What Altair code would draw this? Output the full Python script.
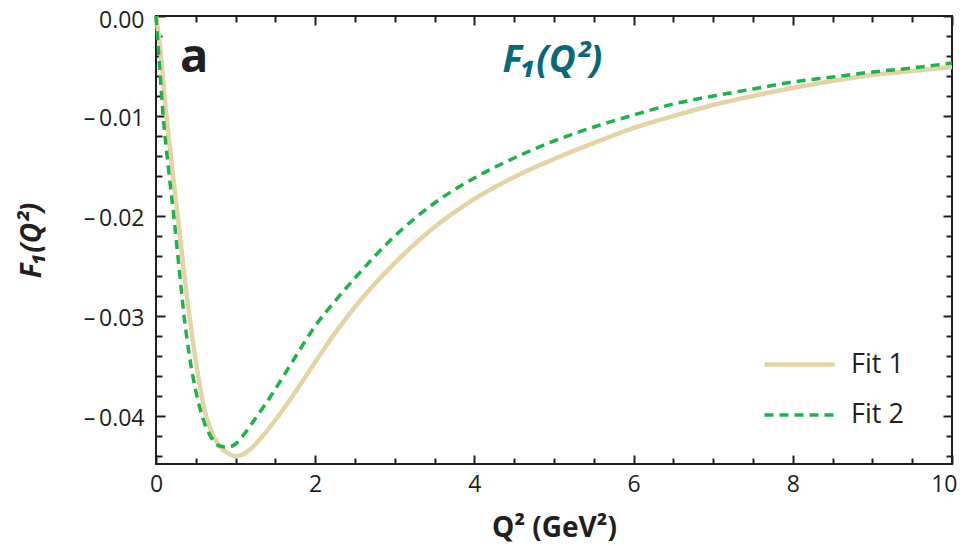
import altair as alt
import pandas as pd

# ---------------- data ----------------
series_names = ["Fit 1", "Fit 2"]

fit1_q2 = [0, 0.05, 0.125, 0.2, 0.28, 0.35, 0.42, 0.5, 0.6, 0.7, 0.8, 0.9, 1.0,
           1.1, 1.2, 1.35, 1.5, 1.75, 2.0, 2.25, 2.5, 3.0, 3.5, 4.0, 4.5, 5.0,
           5.5, 6.0, 6.5, 7.0, 7.5, 8.0, 8.5, 9.0, 9.5, 10]
fit1_f1 = [0, -0.0030, -0.0095, -0.0150, -0.0205, -0.0255, -0.0300, -0.0345,
           -0.0390, -0.0416, -0.0430, -0.0437, -0.0440, -0.0438, -0.0432,
           -0.0419, -0.0404, -0.0376, -0.0346, -0.0317, -0.0291, -0.0247,
           -0.0211, -0.0183, -0.0161, -0.0143, -0.0127, -0.0112, -0.0100,
           -0.0089, -0.0080, -0.0072, -0.0065, -0.0059, -0.0055, -0.0051]

fit2_q2 = [0, 0.04, 0.09, 0.16, 0.23, 0.29, 0.35, 0.42, 0.5, 0.6, 0.7, 0.8,
           0.9, 1.0, 1.1, 1.2, 1.35, 1.5, 1.75, 2.0, 2.25, 2.5, 3.0, 3.5, 4.0,
           4.5, 5.0, 5.5, 6.0, 6.5, 7.0, 7.5, 8.0, 8.5, 9.0, 9.5, 10]
fit2_f1 = [0, -0.0045, -0.0100, -0.0155, -0.0205, -0.0252, -0.0298, -0.0340,
           -0.0375, -0.0405, -0.0422, -0.0430, -0.0431, -0.0428, -0.0419,
           -0.0408, -0.0391, -0.0373, -0.0341, -0.0310, -0.0285, -0.0262,
           -0.0220, -0.0187, -0.0162, -0.0142, -0.0125, -0.0111, -0.0099,
           -0.0088, -0.0080, -0.0073, -0.0066, -0.0061, -0.0056, -0.0052,
           -0.0047]

x_major = [0, 2, 4, 6, 8, 10]
x_minor = [0.5, 1, 1.5, 2.5, 3, 3.5, 4.5, 5, 5.5, 6.5, 7, 7.5, 8.5, 9, 9.5]
y_major = [0, -0.01, -0.02, -0.03, -0.04]
y_minor = [-0.002, -0.004, -0.006, -0.008, -0.012, -0.014, -0.016, -0.018,
           -0.022, -0.024, -0.026, -0.028, -0.032, -0.034, -0.036, -0.038,
           -0.042, -0.044]

panel_label = ["a"]
panel_title = ["F\u2081(Q\u00b2)"]

# ---------------- styling ----------------
FONT = "Open Sans"
INK = "#231f20"
TAN = "#e3d4a5"
GREEN = "#1fb24a"
TEAL = "#0b6878"
X_DOMAIN = [0, 10]
Y_DOMAIN = [-0.0448, 0]
MAJ, MIN = 9, 6

df = pd.concat([
    pd.DataFrame({"series": series_names[0], "q2": fit1_q2, "f1": fit1_f1}),
    pd.DataFrame({"series": series_names[1], "q2": fit2_q2, "f1": fit2_f1}),
])

xs = alt.Scale(domain=X_DOMAIN, nice=False, zero=False)
ys = alt.Scale(domain=Y_DOMAIN, nice=False, zero=False)

common = dict(domain=False, grid=False, tickColor=INK, tickWidth=2)


def ax_x(kind):
    if kind == "bottom_major":
        return alt.Axis(orient="bottom", values=x_major, tickSize=MAJ, offset=-MAJ,
                        labelFont=FONT, labelFontSize=23, labelColor=INK,
                        labelPadding=9, labelFlush=False, format="d",
                        labelAlign={"condition": {"test": "datum.value == 10", "value": "right"},
                                    "value": "center"},
                        labelOffset={"condition": {"test": "datum.value == 10", "value": 5},
                                     "value": 0},
                        title="Q\u00b2 (GeV\u00b2)", titleFont=FONT,
                        titleFontSize=28, titleFontWeight="bold", titleColor=INK,
                        titleBaseline="alphabetic", titleX=398, titleY=81,
                        **common)
    vals = x_major if "major" in kind else x_minor
    size = MAJ if "major" in kind else MIN
    orient = "bottom" if "bottom" in kind else "top"
    return alt.Axis(orient=orient, values=vals, tickSize=size, offset=-size,
                    labels=False, title=None, **common)


def ax_y(kind):
    if kind == "left_major":
        return alt.Axis(orient="left", values=y_major, tickSize=MAJ, offset=-MAJ,
                        labelFont=FONT, labelFontSize=23, labelColor=INK,
                        labelPadding=12, labelFlush=False,
                        labelOffset={"condition": {"test": "datum.value == 0", "value": 4},
                                     "value": 2},
                        labelExpr="datum.value < 0 ? '\u2013\u2009' + format(-datum.value, '.2f') : format(datum.value, '.2f')",
                        title="F\u2081(Q\u00b2)", titleFont=FONT,
                        titleFontSize=28, titleFontWeight="bold",
                        titleFontStyle="italic", titleColor=INK,
                        titleBaseline="middle", titleX=-133, titleY=224,
                        **common)
    vals = y_major if "major" in kind else y_minor
    size = MAJ if "major" in kind else MIN
    orient = "left" if "left" in kind else "right"
    return alt.Axis(orient=orient, values=vals, tickSize=size, offset=-size,
                    labels=False, title=None, **common)


color_scale = alt.Scale(domain=series_names, range=[TAN, GREEN])
dash_scale = alt.Scale(domain=series_names, range=[[1, 0], [9, 6]])
width_scale = alt.Scale(domain=series_names, range=[4.5, 3.5])

legend = alt.Legend(orient="none", legendX=606, legendY=311, title=None,
                    symbolType="stroke", symbolSize=4900, rowPadding=-24,
                    labelFont=FONT, labelFontSize=27, labelColor=INK,
                    labelOffset=14, padding=0)


def line_layer(name, xk, yk):
    return alt.Chart(df).transform_filter(alt.datum.series == name).mark_line(
        interpolate="monotone"
    ).encode(
        x=alt.X("q2:Q", scale=xs, axis=ax_x(xk)),
        y=alt.Y("f1:Q", scale=ys, axis=ax_y(yk)),
        color=alt.Color("series:N", scale=color_scale, legend=legend),
        strokeDash=alt.StrokeDash("series:N", scale=dash_scale, legend=legend),
        strokeWidth=alt.StrokeWidth("series:N", scale=width_scale, legend=legend),
        order=alt.Order("q2:Q"),
    )


l1 = line_layer(series_names[0], "bottom_major", "left_major")
l2 = line_layer(series_names[1], "bottom_minor", "left_minor")

label_df = pd.DataFrame({"txt": panel_label, "q2": [0.48], "f1": [-0.0056]})
title_df = pd.DataFrame({"txt": panel_title, "q2": [4.98], "f1": [-0.0056]})

t1 = alt.Chart(label_df).mark_text(
    font=FONT, fontSize=47, fontWeight="bold", color=INK,
    align="center", baseline="alphabetic"
).encode(
    x=alt.X("q2:Q", scale=xs, axis=ax_x("top_major")),
    y=alt.Y("f1:Q", scale=ys, axis=ax_y("right_major")),
    text="txt:N",
)

t2 = alt.Chart(title_df).mark_text(
    font=FONT, fontSize=37, fontWeight="bold", fontStyle="italic", color=TEAL,
    align="center", baseline="alphabetic"
).encode(
    x=alt.X("q2:Q", scale=xs, axis=ax_x("top_minor")),
    y=alt.Y("f1:Q", scale=ys, axis=ax_y("right_minor")),
    text="txt:N",
)

chart = alt.layer(l1, l2, t1, t2).resolve_axis(
    x="independent", y="independent"
).properties(
    width=796, height=448,
    autosize=alt.AutoSizeParams(type="none"),
    padding={"left": 148, "top": 8, "right": 7, "bottom": 80},
).configure_view(stroke=INK, strokeWidth=2)

chart.save("out.html", embed_options={"renderer": "svg", "actions": False})
